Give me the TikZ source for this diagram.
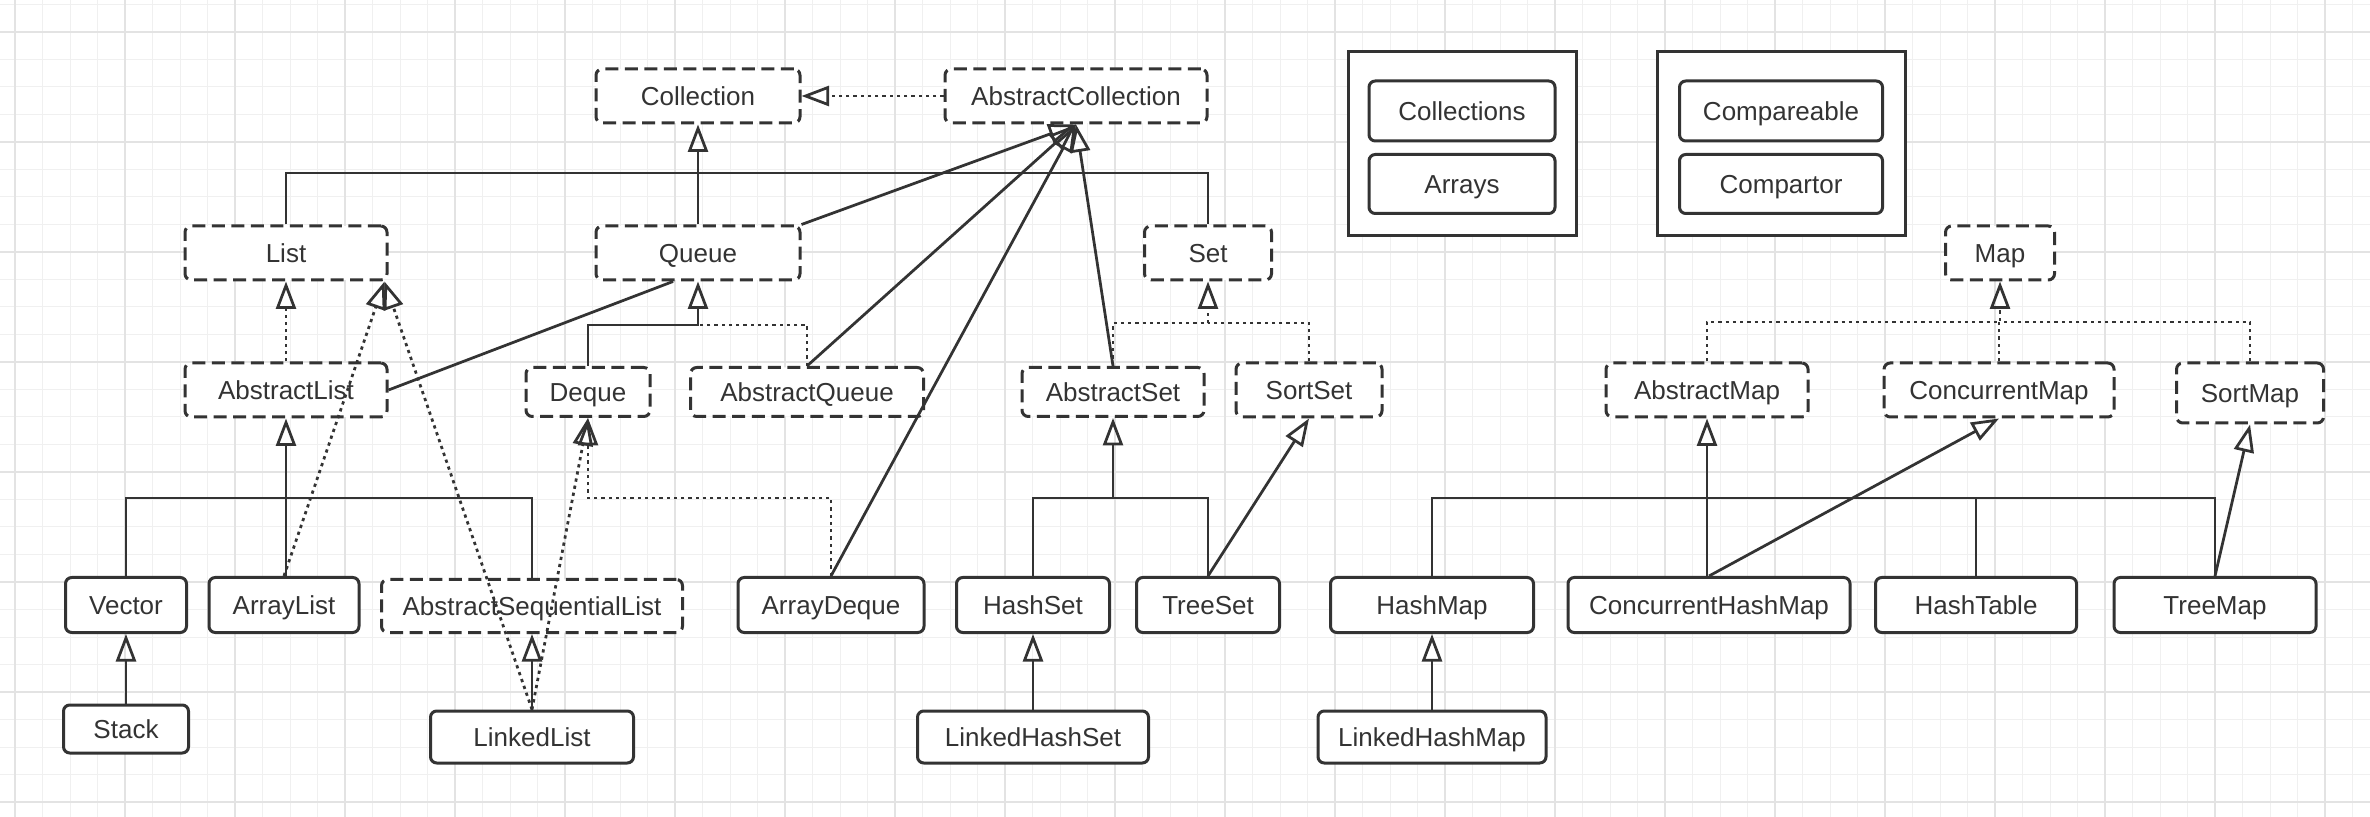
\documentclass[tikz,border=0pt]{standalone}
\usepackage{fontspec}
\setmainfont{Liberation Sans}
\usepackage{tikz}
\usetikzlibrary{arrows.meta,positioning}
\definecolor{ln}{HTML}{333333}
\definecolor{gridminor}{HTML}{F0F0F0}
\definecolor{gridmajor}{HTML}{E3E3E3}

\begin{document}
\begin{tikzpicture}[x=0.4pt, y=-0.4pt,
    box/.style={rectangle, rounded corners=2.5pt, draw=ln, line width=1.2pt, fill=white, text=ln,
      inner sep=0pt, minimum height=21.6pt, text height=7.4pt, text depth=0pt,
      font=\fontsize{10.4}{12}\selectfont},
    iface/.style={box, dash pattern=on 5.2pt off 2.6pt},
    cls/.style={box},
    pkg/.style={rectangle, draw=ln, line width=1.2pt, fill=white, minimum width=#1, minimum height=73.6pt},
    link/.style={draw=ln, line width=1.1pt},
    ext/.style={link, -{Triangle[open, length=11pt, width=8pt]}},
    impl/.style={ext, dash pattern=on 1.3pt off 1.6pt}]
    \useasboundingbox (0,0) rectangle (2370,817);
    \fill[white] (0,0) rectangle (2370,817);
    % background grid
    \foreach \i in {0,...,85} \draw[gridminor, line width=0.4pt] ({15+27.5*\i},0) -- ({15+27.5*\i},817);
    \foreach \i in {0,...,29} \draw[gridminor, line width=0.4pt] (0,{4.5+27.5*\i}) -- (2370,{4.5+27.5*\i});
    \foreach \i in {0,...,21} \draw[gridmajor, line width=0.6pt] ({15+110*\i},0) -- ({15+110*\i},817);
    \foreach \i in {0,...,7} \draw[gridmajor, line width=0.6pt] (0,{32+110*\i}) -- (2370,{32+110*\i});

    % top
    \node [iface, minimum width=81.6pt] (coll) at (698,96) {Collection};
    \node [iface, minimum width=104.8pt] (abscoll) at (1076,96) {AbstractCollection};

    % utility groups
    \node [pkg=91.2pt] (tools) at (1462,144) {};
    \node [cls, minimum width=74.4pt, minimum height=24pt] (colls) at (1462,111) {Collections};
    \node [cls, minimum width=74.4pt, minimum height=23.6pt] (arrays) at (1462,184) {Arrays};
    \node [pkg=99.2pt] (cmp) at (1781,144) {};
    \node [cls, minimum width=81.2pt, minimum height=24pt] (compable) at (1781,111) {Compareable};
    \node [cls, minimum width=81.2pt, minimum height=23.6pt] (compator) at (1781,184) {Compartor};

    % interfaces
    \node [iface, minimum width=80.8pt] (list) at (286,253) {List};
    \node [iface, minimum width=81.6pt] (queue) at (698,253) {Queue};
    \node [iface, minimum width=50.8pt] (set) at (1208,253) {Set};
    \node [iface, minimum width=43.6pt] (map) at (2000,253) {Map};

    % abstract level
    \node [iface, minimum width=80.8pt] (abslist) at (286,390) {AbstractList};
    \node [iface, minimum width=49.6pt, minimum height=19.6pt] (deque) at (588,392) {Deque};
    \node [iface, minimum width=93.2pt, minimum height=19.6pt] (absqueue) at (807,392) {AbstractQueue};
    \node [iface, minimum width=72.8pt, minimum height=19.6pt] (absset) at (1113,392) {AbstractSet};
    \node [iface, minimum width=58.4pt] (sortset) at (1309,390) {SortSet};
    \node [iface, minimum width=80.8pt] (absmap) at (1707,390) {AbstractMap};
    \node [iface, minimum width=92pt] (concmap) at (1999,390) {ConcurrentMap};
    \node [iface, minimum width=58.8pt, minimum height=24pt] (sortmap) at (2250,393) {SortMap};

    % implementations
    \node [cls, minimum width=48.4pt, minimum height=22pt] (vector) at (126,605) {Vector};
    \node [cls, minimum width=60pt, minimum height=22pt] (arraylist) at (284,605) {ArrayList};
    \node [iface, minimum width=120.4pt, minimum height=21.2pt] (absseqlist) at (532,606) {AbstractSequentialList};
    \node [cls, minimum width=74.4pt, minimum height=22pt] (arraydeque) at (831,605) {ArrayDeque};
    \node [cls, minimum width=61.2pt, minimum height=22pt] (hashset) at (1033,605) {HashSet};
    \node [cls, minimum width=57.2pt, minimum height=22pt] (treeset) at (1208,605) {TreeSet};
    \node [cls, minimum width=81.2pt, minimum height=22pt] (hashmap) at (1432,605) {HashMap};
    \node [cls, minimum width=112.8pt, minimum height=22pt] (conchashmap) at (1709,605) {ConcurrentHashMap};
    \node [cls, minimum width=80.4pt, minimum height=22pt] (hashtable) at (1976,605) {HashTable};
    \node [cls, minimum width=80.8pt, minimum height=22pt] (treemap) at (2215,605) {TreeMap};

    % bottom row
    \node [cls, minimum width=50pt, minimum height=19.2pt] (stack) at (126,729) {Stack};
    \node [cls, minimum width=81.2pt, minimum height=20.8pt] (linkedlist) at (532,737) {LinkedList};
    \node [cls, minimum width=92.4pt, minimum height=20.8pt] (linkedhashset) at (1033,737) {LinkedHashSet};
    \node [cls, minimum width=91.2pt, minimum height=20.8pt] (linkedhashmap) at (1432,737) {LinkedHashMap};

    % junction points
    \coordinate (topbus) at (698,173);
    \coordinate (qjoin) at (698,325);
    \coordinate (setjoin) at (1208,323);
    \coordinate (mapjoin) at (2000,322);
    \coordinate (lbus) at (286,498);
    \coordinate (djoin) at (588,498);
    \coordinate (sbus) at (1113,498);
    \coordinate (mbus) at (1707,498);

    % collection side
    \path (abscoll.west) edge [impl] (coll.east);
    \draw [link] (list.north) |- (topbus) -| (set.north);
    \path (queue.north) edge [ext] (coll.south);
    \path (queue.north east) edge [ext] (abscoll.south);
    \path (absqueue.north) edge [ext] (abscoll.south);
    \path (arraydeque.north) edge [ext] (abscoll.south);
    \path (absset.north) edge [ext] (abscoll.south);
    \draw [link] (abslist.east) -- ([xshift=-10pt]queue.south);
    \draw [ext] (deque.north) |- (qjoin) -- (queue.south);
    \draw [impl, -] (absqueue.north) |- (qjoin);
    \path (abslist.north) edge [impl] (list.south);
    \path (arraylist.north) edge [impl] ([xshift=-1.6pt]list.south east);
    \path (linkedlist.north) edge [impl] ([xshift=-1.6pt]list.south east);
    \path (linkedlist.north) edge [impl] (deque.south);
    \draw [impl] (arraydeque.north) |- (djoin) -- (deque.south);
    \draw [link] (vector.north) |- (lbus) -| (absseqlist.north);
    \path (abslist.south |- arraylist.north) edge [ext] (abslist.south);
    \path (linkedlist.north) edge [ext] (absseqlist.south);
    \path (stack) edge [ext] (vector);
    \draw [link] (hashset.north) |- (sbus) -| (treeset.north);
    \path (sbus) edge [ext] (absset.south);
    \path (treeset.north) edge [ext] (sortset.south);
    \draw [impl] (absset.north) |- (setjoin) -- (set.south);
    \draw [impl, -] (sortset.north) |- (setjoin);
    \path (linkedhashset) edge [ext] (hashset);

    % map side
    \draw [impl] (absmap.north) |- (mapjoin) -- (map.south);
    \draw [impl, -] (sortmap.north) |- (mapjoin);
    \draw [impl, -] (concmap.north) -- (concmap.north |- mapjoin);
    \draw [link] (hashmap.north) |- (mbus) -| (treemap.north);
    \draw [link] (hashtable.north) -- (hashtable.north |- mbus);
    \path (absmap.south |- conchashmap.north) edge [ext] (absmap.south);
    \path (conchashmap.north) edge [ext] (concmap.south);
    \path (treemap.north) edge [ext] (sortmap.south);
    \path (linkedhashmap) edge [ext] (hashmap);
\end{tikzpicture}
\end{document}
